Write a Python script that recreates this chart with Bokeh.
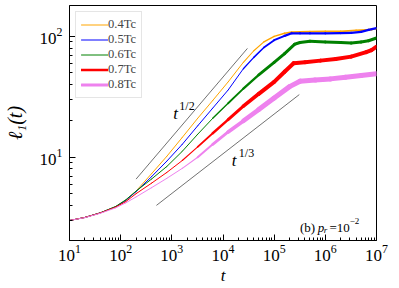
import math
from bokeh.plotting import figure
from bokeh.models import Label, Legend, LegendItem, FixedTicker, LogTickFormatter
from bokeh.embed import file_html
from bokeh.resources import INLINE

# ---- data ----
t_04 = [10, 20, 40, 80, 126, 200, 400, 800, 1600, 3200, 6300, 12600, 25000, 40000, 63000,
        1.0e5, 1.6e5, 2.2e5, 3.2e5, 5.0e5, 1.0e6, 2.0e6, 4.0e6, 6.3e6, 8.0e6, 1.0e7]
l_04 = [3.0, 3.18, 3.47, 3.9, 4.4, 5.25, 7.3, 10.2, 14.6, 21.0, 29.5, 42, 61, 76, 90,
        100, 106, 108.5, 109, 109.5, 110, 110, 112, 113, 114, 116]

t_05 = [10, 20, 40, 80, 126, 200, 400, 800, 1600, 3200, 6300, 12600, 25000, 40000, 63000,
        1.0e5, 1.6e5, 2.2e5, 3.2e5, 5.0e5, 1.0e6, 2.0e6, 3.2e6, 5.0e6, 7.0e6, 1.0e7]
l_05 = [3.0, 3.18, 3.47, 3.9, 4.4, 5.2, 6.9, 9.3, 12.8, 18.2, 25.5, 36, 54, 67, 81,
        93, 101, 106, 106, 106, 106, 106.5, 107, 109, 113, 117]

t_06 = [10, 20, 40, 80, 126, 200, 400, 800, 1600, 3200, 6300, 12600, 25000, 50000, 1.0e5,
        1.6e5, 2.5e5, 3.2e5, 5.0e5, 1.0e6, 2.0e6, 3.2e6, 5.0e6, 7.0e6, 1.0e7]
l_06 = [3.0, 3.18, 3.47, 3.92, 4.45, 5.25, 6.6, 8.4, 11.2, 15.5, 21, 28, 37, 48, 61,
        72, 86, 89, 91, 90, 89, 88, 90, 92, 97]

t_07 = [10, 20, 40, 80, 126, 200, 400, 800, 1600, 3200, 6300, 12600, 25000, 50000, 1.0e5,
        1.6e5, 2.4e5, 4.0e5, 8.0e5, 1.6e6, 3.2e6, 6.3e6, 8.0e6, 1.0e7]
l_07 = [3.0, 3.18, 3.46, 3.87, 4.3, 5.0, 6.1, 7.5, 9.4, 12.2, 15.8, 20.5, 26.5, 33.5, 42,
        51, 60, 61, 63, 65, 68, 74, 77, 82]

t_08 = [10, 20, 40, 80, 126, 200, 400, 800, 1600, 3200, 6300, 12600, 25000, 50000, 1.0e5,
        2.0e5, 3.2e5, 6.3e5, 1.26e6, 2.5e6, 5.0e6, 1.0e7]
l_08 = [3.0, 3.17, 3.44, 3.82, 4.2, 4.7, 5.6, 6.7, 8.1, 10.0, 12.8, 16.2, 20, 24.8, 30.9,
        38.4, 42.6, 43.5, 44.5, 46, 47.5, 49]

labels = ["0.4Tc", "0.5Tc", "0.6Tc", "0.7Tc", "0.8Tc"]

# guide lines t^(1/2) and t^(1/3)
half_t = [200, 3.0e4]
half_l = [6.6, 79.5]
third_t = [500, 3.1e5]
third_l = [4.0, 33.0]

# axis ticks
x_major = [1e1, 1e2, 1e3, 1e4, 1e5, 1e6, 1e7]
y_major = [1e1, 1e2]

# ---- styling ----
colors = ["orange", "blue", "green", "red", "violet"]
w_start = [3.0e4, 2.0e4, 5.0e3, 2.0e3, 2.0e3]   # where the noisy band starts to widen
w_full = [3.0e5, 2.0e5, 1.0e5, 5.0e4, 5.0e4]    # where it reaches full width
w_max = [1.8, 2.3, 3.0, 4.0, 5.0]
leg_index = [0, 0, 0, 10, 10]                    # which segment styles the legend glyph
FONT = "Liberation Serif"

p = figure(width=399, height=288, x_axis_type="log", y_axis_type="log",
           x_range=(10, 1e7), y_range=(2.05, 180),
           output_backend="svg", toolbar_location=None,
           min_border_left=62, min_border_right=23, min_border_top=5, min_border_bottom=48)

p.xgrid.visible = False
p.ygrid.visible = False
p.outline_line_color = "black"
p.outline_line_width = 1
p.background_fill_color = "white"

x_minor = [m * d for d in x_major[:-1] for m in range(2, 10)]
y_minor = [m * d for d in [1.0] + y_major for m in range(2, 10) if 2.05 < m * d < 180]
p.xaxis.ticker = FixedTicker(ticks=x_major, minor_ticks=x_minor)
p.yaxis.ticker = FixedTicker(ticks=y_major, minor_ticks=y_minor)
p.xaxis.formatter = LogTickFormatter()
p.yaxis.formatter = LogTickFormatter()

for ax in (p.xaxis[0], p.yaxis[0]):
    ax.major_tick_in = 6
    ax.major_tick_out = 0
    ax.minor_tick_in = 3
    ax.minor_tick_out = 0
    ax.axis_line_color = "black"
    ax.major_tick_line_color = "black"
    ax.minor_tick_line_color = "black"
    ax.major_label_text_font = FONT
    ax.major_label_text_font_size = "17px"
    ax.major_label_text_color = "black"
    ax.axis_label_text_font = FONT
    ax.axis_label_text_font_style = "italic"
    ax.axis_label_text_color = "black"

p.xaxis.axis_label_text_font_size = "17px"
p.yaxis.axis_label_text_font_size = "20px"
p.xaxis.major_label_standoff = 4
p.yaxis.major_label_standoff = 7
p.xaxis.axis_label = "t"
p.xaxis.axis_label_standoff = 2
p.yaxis.axis_label = "ℓ₁(t)"
p.yaxis.axis_label_standoff = 11


def band_width(t, t0, t1, wmax):
    if t <= t0:
        return 1.0
    if t >= t1:
        return wmax
    f = (math.log10(t) - math.log10(t0)) / (math.log10(t1) - math.log10(t0))
    return 1.0 + (wmax - 1.0) * f


series = [(t_04, l_04), (t_05, l_05), (t_06, l_06), (t_07, l_07), (t_08, l_08)]
items = []
for (tt, ll), c, lab, a0, a1, wm, li in zip(series, colors, labels, w_start, w_full,
                                             w_max, leg_index):
    widths = [band_width(math.sqrt(tt[i] * tt[i + 1]), a0, a1, wm) for i in range(len(tt) - 1)]
    seg = p.segment(x0=tt[:-1], y0=ll[:-1], x1=tt[1:], y1=ll[1:], line_color=c,
                    line_width=widths, line_cap="round")
    items.append(LegendItem(label=lab, renderers=[seg], index=li))

p.line(half_t, half_l, line_color="#333333", line_width=0.7)
p.line(third_t, third_l, line_color="#333333", line_width=0.7)

legend = Legend(items=items, location="top_left", margin=6, padding=5,
                label_text_font=FONT, label_text_font_size="12.5px",
                label_text_line_height=1.0,
                glyph_width=27, glyph_height=11, label_height=11, spacing=-2,
                label_standoff=0, border_line_color="#cccccc", border_line_width=1,
                background_fill_alpha=0.85)
p.add_layout(legend)


def add_label(x, y, text, size, style="normal"):
    p.add_layout(Label(x=x, y=y, text=text, text_font=FONT, text_font_size=size,
                       text_font_style=style, text_color="black",
                       text_baseline="alphabetic", text_align="left"))


add_label(1070, 23, "t", "17px", "italic")
add_label(1400, 26.4, "1/2", "12px")
add_label(14800, 9.44, "t", "17px", "italic")
add_label(20400, 10.8, "1/3", "12px")

add_label(3.2e5, 2.64, "(b)", "13px")
add_label(7.1e5, 2.64, "p", "13px", "italic")
add_label(9.3e5, 2.49, "r", "9px", "italic")
add_label(1.2e6, 2.64, "=10", "13px")
add_label(3.0e6, 2.96, "−2", "9px")

open("out.html", "w").write(file_html(p, INLINE))
